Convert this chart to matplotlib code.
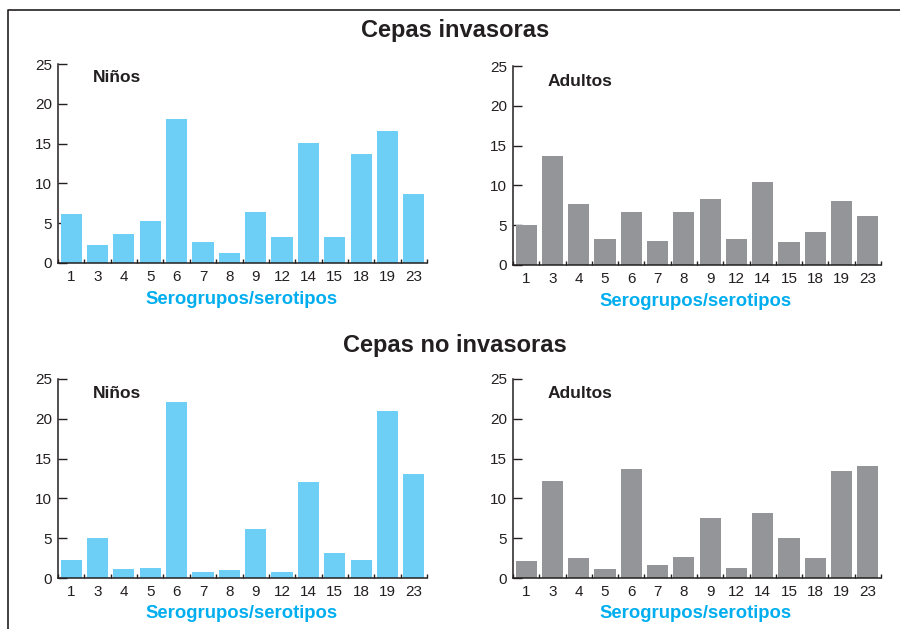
import matplotlib.pyplot as plt
from matplotlib.lines import Line2D

plt.rcParams['font.family'] = ['Liberation Sans', 'DejaVu Sans']

serotipos = ['1', '3', '4', '5', '6', '7', '8', '9', '12', '14', '15', '18', '19', '23']

# porcentaje de cepas por serogrupo/serotipo
inv_ninos = [6.2, 2.2, 3.7, 5.3, 18.1, 2.7, 1.3, 6.45, 3.3, 15.1, 3.3, 13.7, 16.6, 8.7]
inv_adultos = [5.0, 13.7, 7.7, 3.3, 6.7, 3.0, 6.7, 8.3, 3.3, 10.4, 2.9, 4.15, 8.0, 6.2]
noinv_ninos = [2.2, 5.0, 1.1, 1.2, 22.1, 0.7, 0.95, 6.1, 0.7, 12.05, 3.1, 2.2, 21.0, 13.05]
noinv_adultos = [2.1, 12.2, 2.5, 1.1, 13.7, 1.6, 2.6, 7.5, 1.2, 8.15, 5.0, 2.5, 13.45, 14.1]

azul = '#6dcff6'
gris = '#939598'
cian = '#00aeef'
texto = '#231f20'

W, H = 900, 629
fig = plt.figure(figsize=(W / 100, H / 100), dpi=100)


def px_box(x0, x1, y_top, y_bot):
    return [x0 / W, 1 - y_bot / H, (x1 - x0) / W, (y_bot - y_top) / H]


def panel(box, valores, color, etiqueta, lab_y, xlab_x, xlab_y):
    ax = fig.add_axes(px_box(*box))
    pos = range(len(serotipos))
    ax.bar(pos, valores, width=0.8, color=color, zorder=2)
    ax.set_xlim(-0.5, len(serotipos) - 0.5)
    ax.set_ylim(0, 25)
    ax.set_yticks([0, 5, 10, 15, 20, 25])
    ax.set_xticks(list(pos))
    ax.set_xticklabels(serotipos)
    ax.set_xticks([p - 0.5 for p in range(len(serotipos) + 1)], minor=True)
    ax.tick_params(axis='y', direction='in', length=6.5, width=1, pad=4.3,
                   labelsize=11, colors=texto)
    ax.tick_params(axis='x', which='major', length=0, pad=5,
                   labelsize=11, colors=texto)
    ax.tick_params(axis='x', which='minor', direction='in', length=3, width=1,
                   color=texto)
    for s in ['top', 'right']:
        ax.spines[s].set_visible(False)
    for s in ['left', 'bottom']:
        ax.spines[s].set_linewidth(1.1)
        ax.spines[s].set_color(texto)
    fig.text((box[0] + 35) / W, 1 - lab_y / H, etiqueta, fontsize=12.5,
             fontweight='bold', color=texto, va='center', ha='left')
    fig.text(xlab_x / W, 1 - xlab_y / H, 'Serogrupos/serotipos', fontsize=13.3,
             fontweight='bold', color=cian, ha='center', va='center')
    return ax


panel((58, 427, 64, 263), inv_ninos, azul, 'Niños', 78, 242, 299)
panel((513, 881, 66, 265), inv_adultos, gris, 'Adultos', 81, 696, 301)
panel((58, 427, 379, 578), noinv_ninos, azul, 'Niños', 393, 242, 613)
panel((513, 881, 379, 578), noinv_adultos, gris, 'Adultos', 393, 696, 613)

fig.text(455 / W, 1 - 31 / H, 'Cepas invasoras', fontsize=17,
         fontweight='bold', color=texto, ha='center', va='center')
fig.text(455 / W, 1 - 345 / H, 'Cepas no invasoras', fontsize=17,
         fontweight='bold', color=texto, ha='center', va='center')

# marco exterior
fig.add_artist(Line2D([8 / W, 8 / W, 1], [0, 1 - 10 / H, 1 - 10 / H],
                      color=texto, linewidth=1.2, transform=fig.transFigure))

fig.savefig('out.png', dpi=100)
